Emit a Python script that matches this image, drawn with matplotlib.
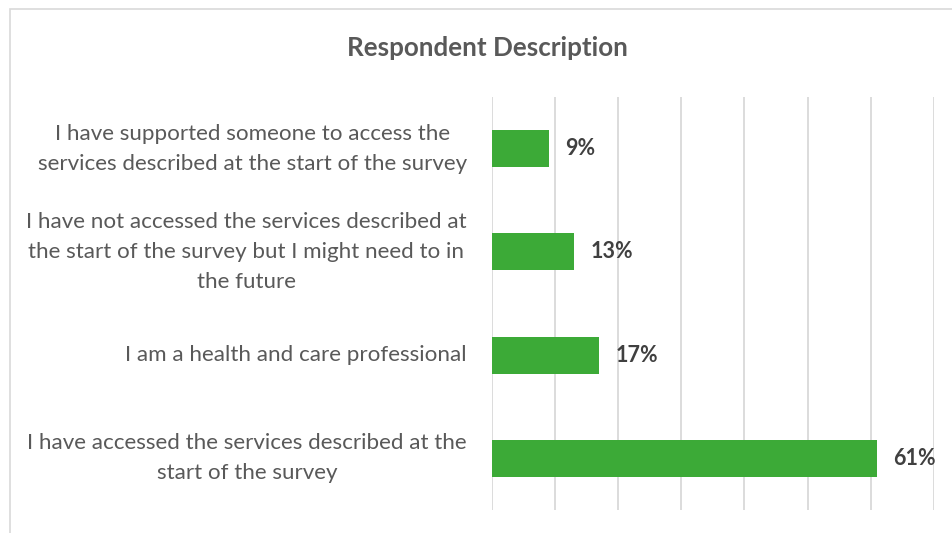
import matplotlib.pyplot as plt
from matplotlib.patches import Rectangle

categories = [
    "I have accessed the services described at the\nstart of the survey",
    "I am a health and care professional",
    "I have not accessed the services described at\nthe start of the survey but I might need to in\nthe future",
    "I have supported someone to access the\nservices described at the start of the survey",
]
shares = [0.61, 0.17, 0.13, 0.09]
value_labels = ["61%", "17%", "13%", "9%"]

plt.rcParams["font.family"] = ["Lato", "DejaVu Sans"]

fig = plt.figure(figsize=(9.53, 5.33), dpi=100)
ax = fig.add_axes([491.7 / 953, 1 - 510 / 533, (934 - 491.7) / 953, (510 - 97) / 533])

ypos = range(len(categories))
ax.barh(ypos, shares, height=0.36, color="#3CAA37")
for y, v, t in zip(ypos, shares, value_labels):
    ax.text(v + 0.026, y, t, va="center", ha="left", fontsize=15.5,
            fontweight="bold", color="#404040")

ax.set_xlim(0, 0.7)
ax.set_ylim(-0.5, len(categories) - 0.5)
ax.set_xticks([i / 10 for i in range(8)])
ax.xaxis.grid(True, color="#D9D9D9", linewidth=1.3)
ax.set_axisbelow(True)
ax.tick_params(axis="x", length=0, labelbottom=False)
ax.tick_params(axis="y", length=0, pad=18)
ax.set_yticks(list(ypos))
ax.set_yticklabels(categories, fontsize=16.1, color="#595959", va="center",
                   multialignment="center", linespacing=1.62)
for s in ax.spines.values():
    s.set_visible(False)

fig.text(487 / 953, 1 - 48 / 533, "Respondent Description", ha="center",
         va="center", fontsize=18.7, fontweight="bold", color="#595959")

# light chart-area frame
fig.patches.append(Rectangle((10 / 953, -0.1), 1.1, 1 - 9.5 / 533 + 0.1,
                             transform=fig.transFigure, fill=False,
                             edgecolor="#D9D9D9", linewidth=1.2))

fig.savefig("out.png", dpi=100)
